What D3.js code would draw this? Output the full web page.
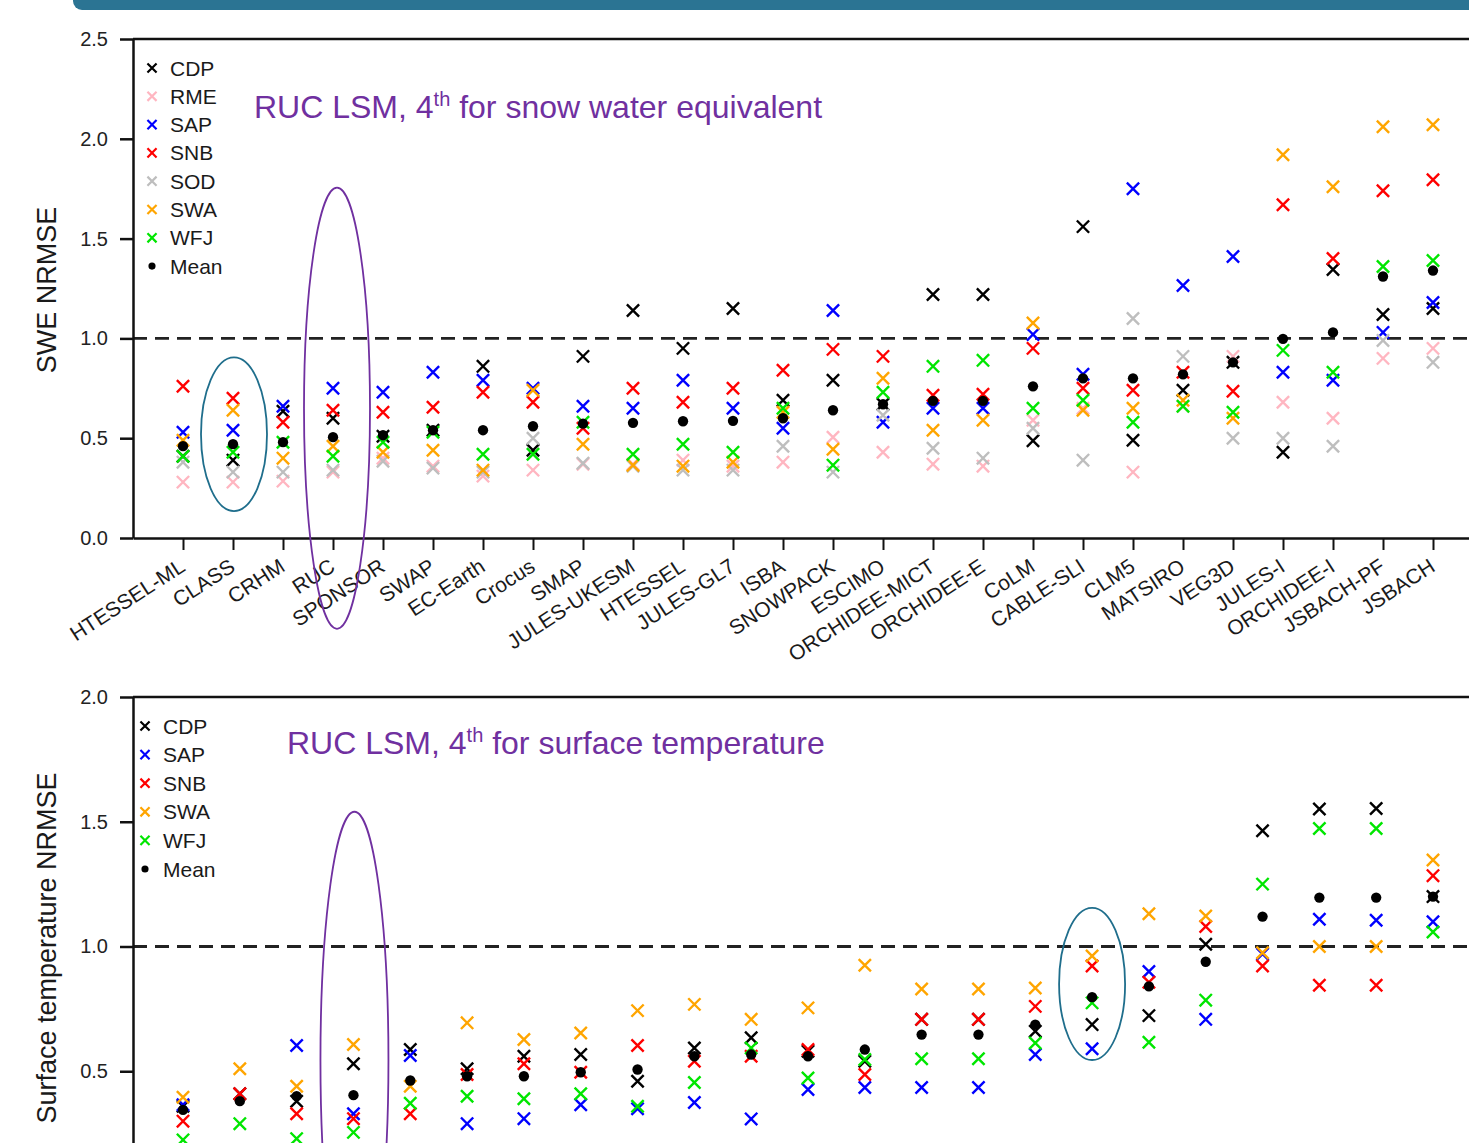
<!DOCTYPE html>
<html>
<head>
<meta charset="utf-8">
<script src="https://cdn.jsdelivr.net/npm/d3@7"></script>
<style>
body { margin: 0; background: #fff; overflow: hidden; }
svg { display: block; font-family: "Liberation Sans", Arial, Helvetica, sans-serif; }
</style>
</head>
<body>
<script>
// ---- top panel: snow water equivalent ----
var sweModels = ["HTESSEL-ML", "CLASS", "CRHM", "RUC", "SPONSOR", "SWAP", "EC-Earth", "Crocus", "SMAP",
  "JULES-UKESM", "HTESSEL", "JULES-GL7", "ISBA", "SNOWPACK", "ESCIMO", "ORCHIDEE-MICT", "ORCHIDEE-E",
  "CoLM", "CABLE-SLI", "CLM5", "MATSIRO", "VEG3D", "JULES-I", "ORCHIDEE-I", "JSBACH-PF", "JSBACH"];
var sweCDP = [0.41, 0.39, 0.635, 0.60, 0.51, 0.54, 0.86, 0.44, 0.91, 1.14, 0.95, 1.15, 0.69, 0.79, 0.67, 1.22, 1.22, 0.487, 1.56, 0.49, 0.74, 0.88, 0.43, 1.345, 1.12, 1.15];
var sweRME = [0.28, 0.28, 0.285, 0.33, 0.40, 0.36, 0.31, 0.34, 0.37, 0.37, 0.39, 0.36, 0.38, 0.505, 0.43, 0.37, 0.36, 0.59, 0.65, 0.33, 0.66, 0.91, 0.68, 0.60, 0.90, 0.95];
var sweSAP = [0.53, 0.54, 0.66, 0.75, 0.73, 0.83, 0.79, 0.75, 0.66, 0.65, 0.79, 0.65, 0.55, 1.14, 0.58, 0.65, 0.65, 1.02, 0.82, 1.75, 1.265, 1.41, 0.83, 0.79, 1.03, 1.18];
var sweSNB = [0.76, 0.70, 0.58, 0.64, 0.63, 0.655, 0.73, 0.68, 0.55, 0.75, 0.68, 0.75, 0.84, 0.945, 0.91, 0.715, 0.72, 0.95, 0.75, 0.74, 0.83, 0.735, 1.67, 1.40, 1.74, 1.795];
var sweSOD = [0.38, 0.33, 0.33, 0.34, 0.385, 0.35, 0.33, 0.50, 0.375, 0.36, 0.34, 0.34, 0.46, 0.33, 0.615, 0.45, 0.40, 0.55, 0.39, 1.10, 0.91, 0.50, 0.50, 0.46, 0.99, 0.88];
var sweSWA = [0.49, 0.64, 0.40, 0.46, 0.43, 0.44, 0.34, 0.74, 0.47, 0.365, 0.36, 0.38, 0.63, 0.445, 0.80, 0.54, 0.59, 1.077, 0.64, 0.65, 0.69, 0.60, 1.92, 1.76, 2.06, 2.07];
var sweWFJ = [0.41, 0.43, 0.48, 0.41, 0.48, 0.53, 0.42, 0.42, 0.58, 0.42, 0.47, 0.43, 0.65, 0.365, 0.73, 0.86, 0.89, 0.65, 0.69, 0.58, 0.66, 0.63, 0.94, 0.83, 1.36, 1.39];
var sweMean = [0.46, 0.47, 0.48, 0.505, 0.515, 0.54, 0.54, 0.56, 0.573, 0.577, 0.585, 0.587, 0.60, 0.64, 0.67, 0.687, 0.687, 0.76, 0.80, 0.80, 0.82, 0.88, 0.998, 1.03, 1.31, 1.34];
var sweTicks = [0, 0.5, 1.0, 1.5, 2.0, 2.5];

// ---- bottom panel: surface temperature (23 models, labels cut off in the picture) ----
var tsCDP = [0.36, 0.41, 0.38, 0.53, 0.587, 0.51, 0.56, 0.567, 0.46, 0.593, 0.634, 0.58, 0.54, 0.708, 0.708, 0.66, 0.687, 0.723, 1.009, 1.464, 1.551, 1.553, 1.20];
var tsSAP = [0.366, 0.18, 0.603, 0.33, 0.563, 0.29, 0.31, 0.366, 0.35, 0.375, 0.309, 0.427, 0.435, 0.435, 0.435, 0.567, 0.59, 0.90, 0.708, 0.97, 1.109, 1.105, 1.099];
var tsSNB = [0.30, 0.41, 0.33, 0.31, 0.33, 0.487, 0.53, 0.496, 0.603, 0.54, 0.56, 0.587, 0.487, 0.708, 0.708, 0.76, 0.922, 0.857, 1.08, 0.922, 0.845, 0.845, 1.284];
var tsSWA = [0.396, 0.51, 0.44, 0.607, 0.44, 0.694, 0.627, 0.653, 0.743, 0.768, 0.708, 0.754, 0.925, 0.83, 0.83, 0.834, 0.962, 1.131, 1.122, 0.975, 1.0, 1.0, 1.347];
var tsWFJ = [0.225, 0.29, 0.23, 0.255, 0.372, 0.40, 0.39, 0.41, 0.36, 0.455, 0.593, 0.473, 0.547, 0.55, 0.55, 0.613, 0.774, 0.616, 0.785, 1.25, 1.473, 1.473, 1.058];
var tsMean = [0.345, 0.38, 0.40, 0.404, 0.463, 0.48, 0.48, 0.496, 0.507, 0.56, 0.567, 0.56, 0.587, 0.647, 0.647, 0.687, 0.797, 0.84, 0.939, 1.12, 1.196, 1.196, 1.20];
var tsTicks = [0.5, 1.0, 1.5, 2.0];

var siteColor = {
  CDP: "#000000", RME: "#ffb6c1", SAP: "#0000ff", SNB: "#ff0000",
  SOD: "#bebebe", SWA: "#ffa500", WFJ: "#00e600"
};
var purple = "#7030a0", teal = "#1f6e8c";

var svg = d3.select("body").append("svg")
  .attr("width", 1469)
  .attr("height", 1143);

// banner strip at the very top
svg.append("rect")
  .attr("x", 73).attr("y", -14)
  .attr("width", 1430).attr("height", 24)
  .attr("rx", 9)
  .attr("fill", "#2b7493");

var xMark = d3.symbol(d3.symbolX, 100);
var legendMark = d3.symbol(d3.symbolX, 56);
var dotMark = d3.symbol(d3.symbolCircle, 84);

var drawPanel = function(p) {
  var g = svg.append("g");
  var x = d3.scalePoint().domain(p.cats).range([133, 1483]).padding(p.pad);
  var y = d3.scaleLinear().domain([0, p.ymax]).range([p.y0, p.ytop]);

  // frame top line
  g.append("line")
    .attr("x1", 133).attr("x2", 1483)
    .attr("y1", y(p.ymax)).attr("y2", y(p.ymax))
    .attr("stroke", "#111").attr("stroke-width", 2.5);

  // dashed reference at 1.0
  g.append("line")
    .attr("x1", 133).attr("x2", 1483)
    .attr("y1", y(1)).attr("y2", y(1))
    .attr("stroke", "#222").attr("stroke-width", 2.8)
    .attr("stroke-dasharray", "14,8");

  var yAxis = g.append("g")
    .attr("transform", "translate(133,0)")
    .call(d3.axisLeft(y).tickValues(p.ticks).tickFormat(d3.format(".1f")).tickSize(13).tickSizeOuter(0).tickPadding(12));
  yAxis.select(".domain").attr("stroke", "#111").attr("stroke-width", 2.5);
  yAxis.selectAll(".tick line").attr("stroke", "#111").attr("stroke-width", 2.5);
  yAxis.selectAll(".tick text").attr("font-size", 20).attr("fill", "#222")
    .attr("font-family", "Liberation Sans, Arial, sans-serif");

  if (p.labels) {
    var xAxis = g.append("g")
      .attr("transform", "translate(0," + p.y0 + ")")
      .call(d3.axisBottom(x).tickSize(12).tickSizeOuter(0));
    xAxis.select(".domain").attr("stroke", "#111").attr("stroke-width", 2.5);
    xAxis.selectAll(".tick line").attr("stroke", "#111").attr("stroke-width", 2);
    xAxis.selectAll(".tick text")
      .attr("font-size", 21).attr("fill", "#1a1a1a")
      .attr("font-family", "Liberation Sans, Arial, sans-serif")
      .attr("text-anchor", "end")
      .attr("y", 0).attr("dy", 0)
      .attr("transform", "translate(3,32) rotate(-33)");
  } else {
    g.append("line")
      .attr("x1", 120).attr("x2", 1483)
      .attr("y1", p.y0).attr("y2", p.y0)
      .attr("stroke", "#111").attr("stroke-width", 2.5);
  }

  // y title
  g.append("text")
    .attr("transform", "translate(" + p.ylabX + "," + p.ylabY + ") rotate(-90)")
    .attr("text-anchor", "middle")
    .attr("font-size", 27)
    .attr("fill", "#1a1a1a")
    .text(p.ylabel);

  // site markers
  p.series.forEach(function(s) {
    g.append("g").selectAll("path")
      .data(s.values)
      .enter().append("path")
      .attr("transform", function(d, i) { return "translate(" + x(p.cats[i]) + "," + y(d) + ")"; })
      .attr("d", xMark)
      .attr("fill", "none")
      .attr("stroke", siteColor[s.name])
      .attr("stroke-width", 2.4);
  });

  g.append("g").selectAll("path")
    .data(p.mean)
    .enter().append("path")
    .attr("transform", function(d, i) { return "translate(" + x(p.cats[i]) + "," + y(d) + ")"; })
    .attr("d", dotMark)
    .attr("fill", "#000");

  // legend
  var leg = g.append("g").selectAll("g")
    .data(p.series.map(function(s) { return s.name; }).concat(["Mean"]))
    .enter().append("g")
    .attr("transform", function(d, i) { return "translate(" + p.legX + "," + (p.legY + i * p.legStep) + ")"; });
  leg.append("path")
    .attr("d", function(d) { return d == "Mean" ? d3.symbol(d3.symbolCircle, 40)() : legendMark(); })
    .attr("fill", function(d) { return d == "Mean" ? "#000" : "none"; })
    .attr("stroke", function(d) { return d == "Mean" ? "none" : siteColor[d]; })
    .attr("stroke-width", 2.2);
  leg.append("text")
    .attr("x", 18).attr("dy", "0.36em")
    .attr("font-size", 21)
    .attr("fill", "#1a1a1a")
    .text(function(d) { return d; });

  // headline
  var t = g.append("text")
    .attr("x", p.titleX).attr("y", p.titleY)
    .attr("font-size", 32)
    .attr("fill", purple);
  t.append("tspan").text("RUC LSM, 4");
  t.append("tspan").attr("font-size", 20).attr("dy", -12).text("th");
  t.append("tspan").attr("dy", 12).text(" for " + p.titleRest);

  // highlight ellipses
  p.rings.forEach(function(r) {
    var top = y(r.hi), bot = y(r.lo);
    g.append("ellipse")
      .attr("cx", x(r.cat) + r.dx)
      .attr("cy", (top + bot) / 2)
      .attr("rx", r.rx)
      .attr("ry", (bot - top) / 2)
      .attr("fill", "none")
      .attr("stroke", r.color)
      .attr("stroke-width", 1.8);
  });
};

drawPanel({
  cats: sweModels, pad: 1, ymax: 2.5, y0: 538, ytop: 39, ticks: sweTicks, labels: true,
  ylabel: "SWE NRMSE", ylabX: 56, ylabY: 290,
  series: [
    { name: "CDP", values: sweCDP }, { name: "RME", values: sweRME }, { name: "SAP", values: sweSAP },
    { name: "SNB", values: sweSNB }, { name: "SOD", values: sweSOD }, { name: "SWA", values: sweSWA },
    { name: "WFJ", values: sweWFJ }
  ],
  mean: sweMean,
  legX: 152, legY: 68, legStep: 28.3,
  titleX: 254, titleY: 118, titleRest: "snow water equivalent",
  rings: [
    { cat: "CLASS", dx: 1, rx: 33, hi: 0.905, lo: 0.135, color: teal },
    { cat: "RUC", dx: 4, rx: 33, hi: 1.755, lo: -0.455, color: purple }
  ]
});

drawPanel({
  cats: d3.range(tsMean.length), pad: 0.88, ymax: 2.0, y0: 1196, ytop: 697, ticks: tsTicks, labels: false,
  ylabel: "Surface temperature NRMSE", ylabX: 56, ylabY: 948,
  series: [
    { name: "CDP", values: tsCDP }, { name: "SAP", values: tsSAP }, { name: "SNB", values: tsSNB },
    { name: "SWA", values: tsSWA }, { name: "WFJ", values: tsWFJ }
  ],
  mean: tsMean,
  legX: 145, legY: 726, legStep: 28.6,
  titleX: 287, titleY: 754, titleRest: "surface temperature",
  rings: [
    { cat: 3, dx: 1, rx: 34, hi: 1.54, lo: -0.45, color: purple },
    { cat: 16, dx: 0, rx: 33, hi: 1.155, lo: 0.545, color: teal }
  ]
});
</script>
</body>
</html>
